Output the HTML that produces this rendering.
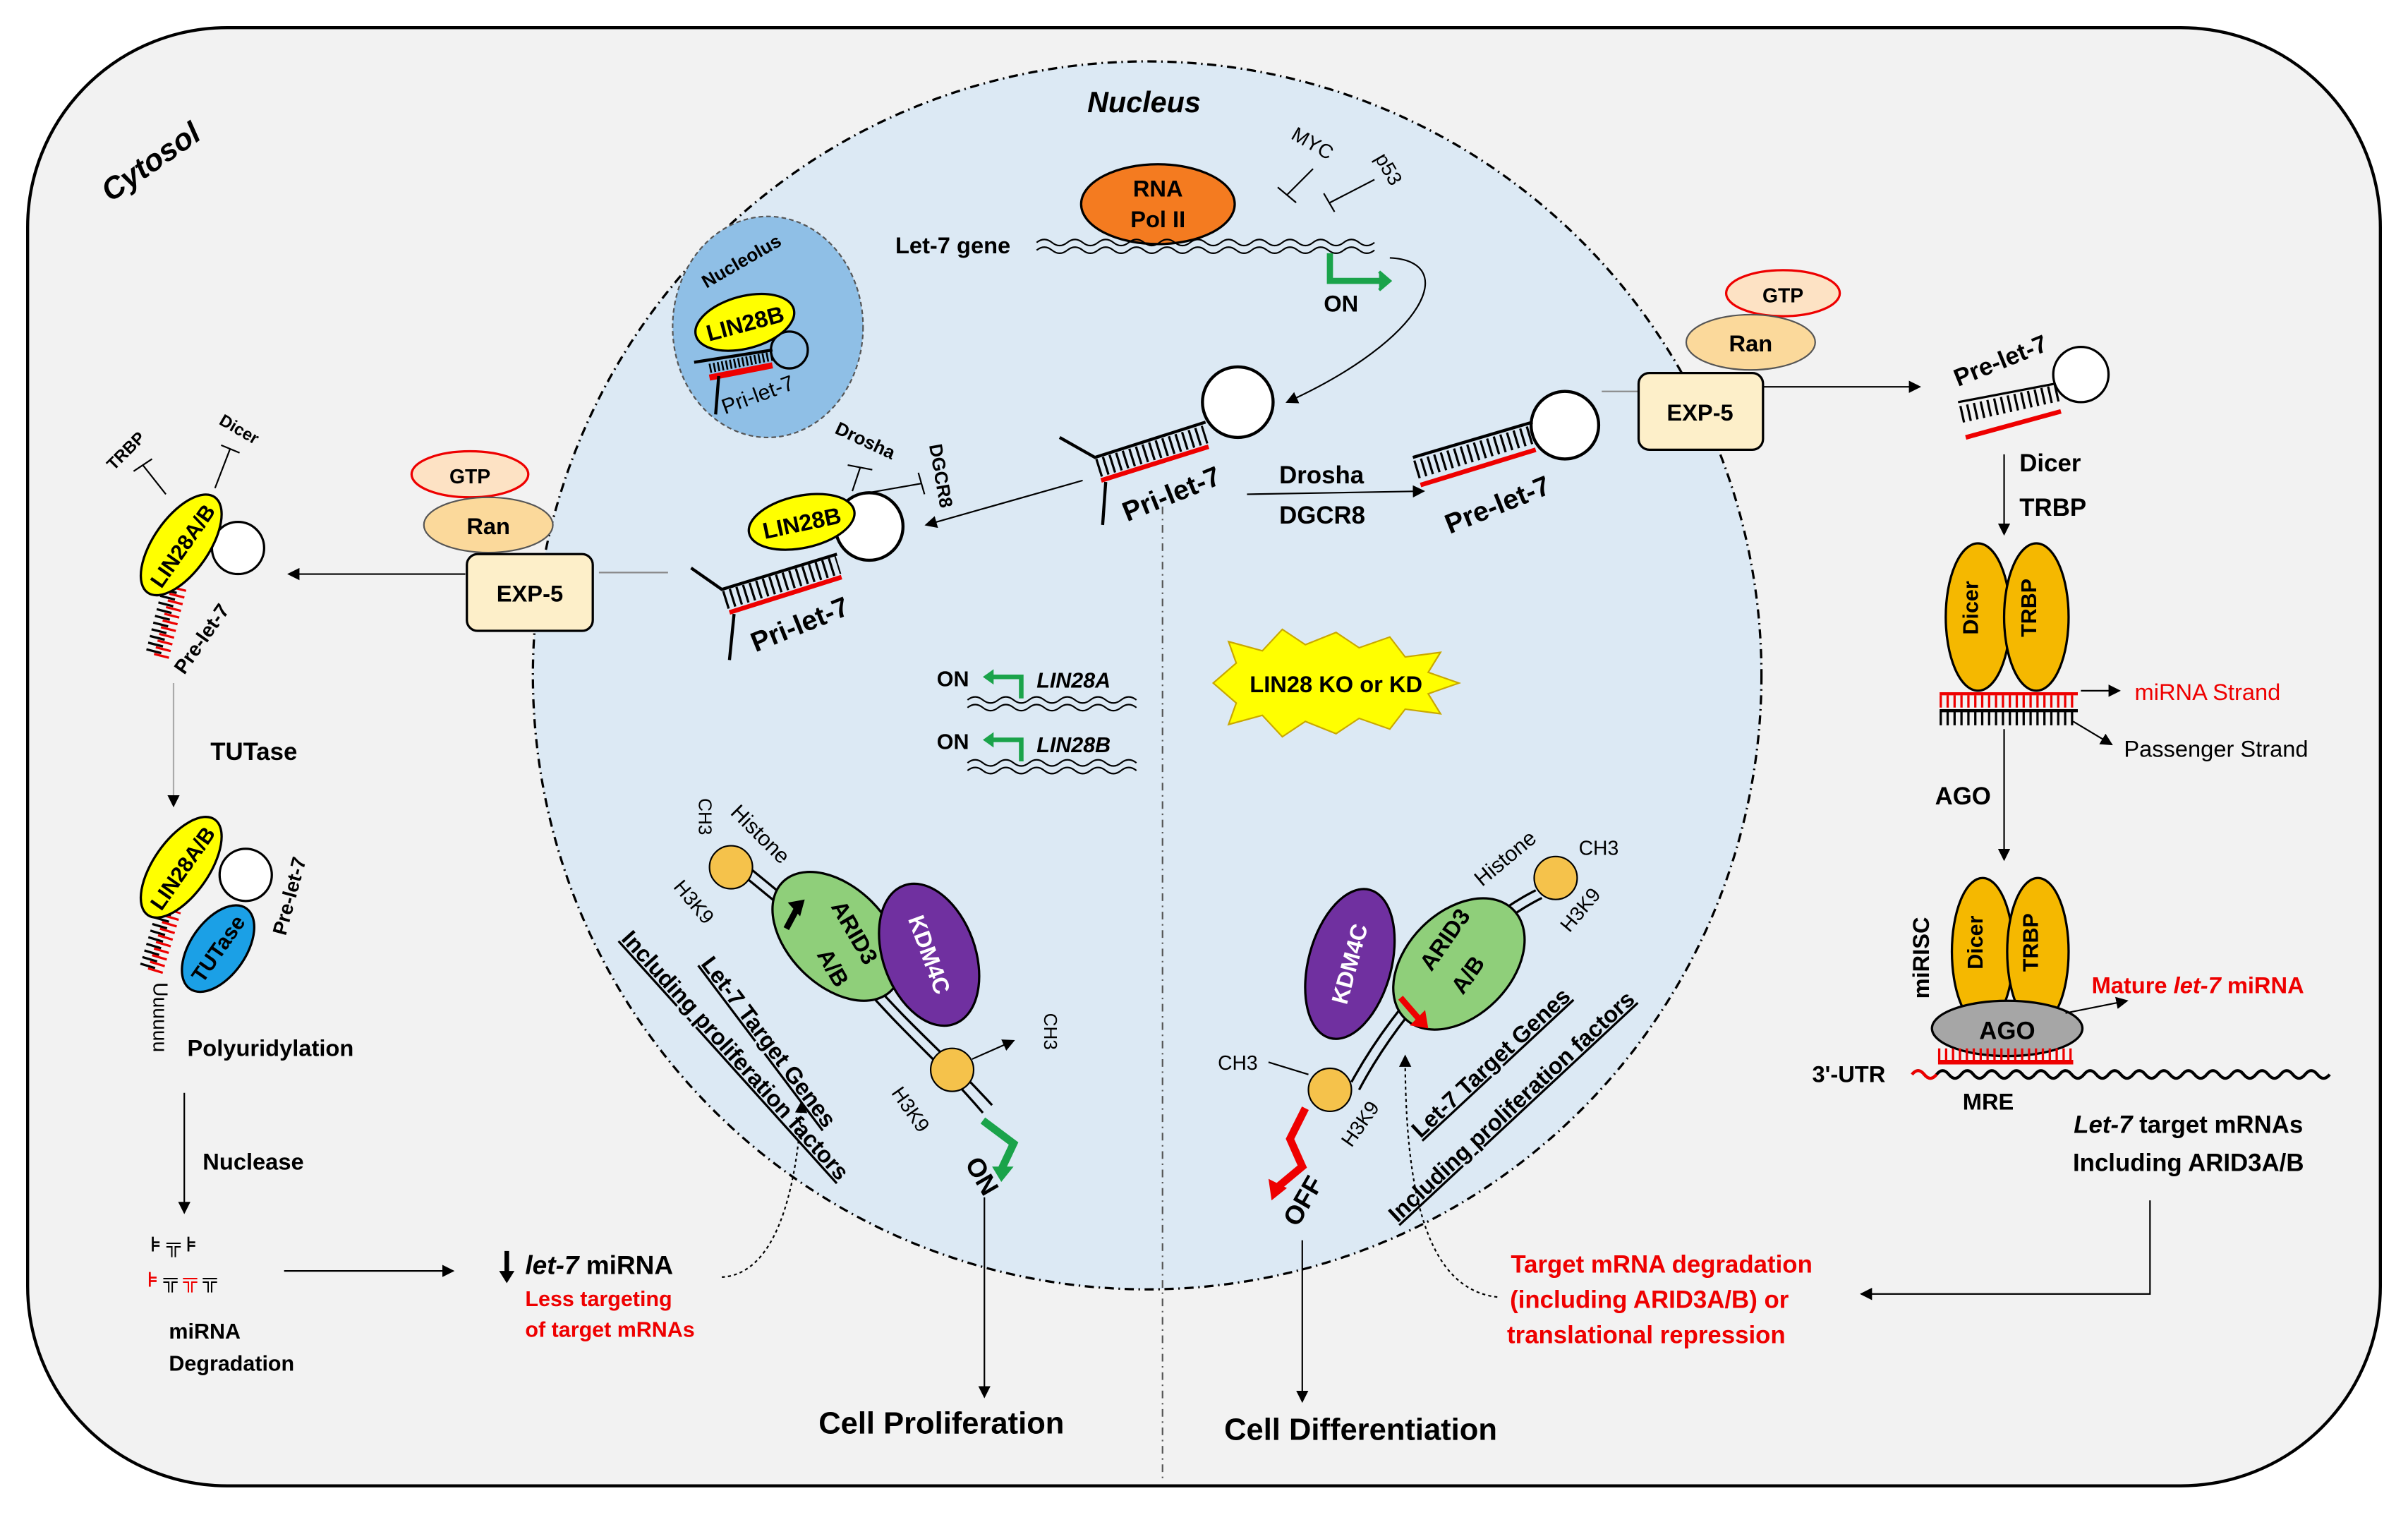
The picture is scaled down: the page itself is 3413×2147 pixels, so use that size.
<!DOCTYPE html>
<html><head><meta charset="utf-8"><style>
html,body{margin:0;padding:0;background:#fff;}
svg{display:block;}
text{font-family:"Liberation Sans",sans-serif;}
</style></head><body>
<svg width="3413" height="2147" viewBox="0 0 1568 987" preserveAspectRatio="none" xmlns="http://www.w3.org/2000/svg">
<defs>
<marker id="a" markerWidth="8" markerHeight="8" refX="7" refY="4" orient="auto" markerUnits="userSpaceOnUse"><path d="M0,0 L8,4 L0,8 z" fill="#000"/></marker>
</defs>
<rect width="1568" height="987" fill="#fff"/>
<rect x="18" y="18" width="1532" height="950" rx="130" fill="#f2f2f2" stroke="#000" stroke-width="2"/>
<circle cx="747" cy="440" r="400" fill="#dce9f4" stroke="#000" stroke-width="1.5" stroke-dasharray="6,3,1,3"/>
<line x1="757" y1="330" x2="757" y2="965" stroke="#555" stroke-width="1" stroke-dasharray="5,3,1,3"/>
<text transform="translate(72,132) rotate(-35)" font-size="20" font-weight="bold" font-style="italic">Cytosol</text>
<text x="708" y="73" font-size="19" font-weight="bold" font-style="italic">Nucleus</text>

<!-- Nucleolus -->
<ellipse cx="500" cy="213" rx="62" ry="72" fill="#8fbfe6" stroke="#555" stroke-dasharray="3,2"/>
<text transform="translate(460,188) rotate(-30)" font-size="12" font-weight="bold">Nucleolus</text>
<circle cx="514" cy="228" r="12" fill="none" stroke="#000" stroke-width="1.5"/>
<path d="M452 236 L503 228" stroke="#000" stroke-width="2"/>
<path d="M462 240 L503 232" stroke="#000" stroke-width="6" stroke-dasharray="1.2,1.5"/>
<path d="M462 246 L503 238" stroke="#e00" stroke-width="4"/>
<path d="M468 245 L466 270" stroke="#000" stroke-width="2"/>
<ellipse cx="485" cy="210" rx="33" ry="17" fill="#ffff00" stroke="#000" stroke-width="1.5" transform="rotate(-15 485 210)"/>
<text x="485" y="216" font-size="15" font-weight="bold" text-anchor="middle" transform="rotate(-15 485 210)">LIN28B</text>
<text transform="translate(472,270) rotate(-20)" font-size="14">Pri-let-7</text>

<!-- Let-7 gene -->
<ellipse cx="754" cy="133" rx="50" ry="26" fill="#f47b20" stroke="#000" stroke-width="1.5"/>
<text x="754" y="128" font-size="15" font-weight="bold" text-anchor="middle">RNA</text>
<text x="754" y="148" font-size="15" font-weight="bold" text-anchor="middle">Pol II</text>
<text x="583" y="165" font-size="15" font-weight="bold">Let-7 gene</text>
<path d="M675 158 q5 -4 10 0 t10 0 t10 0 t10 0 t10 0 t10 0 t10 0 t10 0 t10 0 t10 0 t10 0 t10 0 t10 0 t10 0 t10 0 t10 0 t10 0 t10 0 t10 0 t10 0 t10 0 t10 0" fill="none" stroke="#000"/>
<path d="M675 163 q5 -4 10 0 t10 0 t10 0 t10 0 t10 0 t10 0 t10 0 t10 0 t10 0 t10 0 t10 0 t10 0 t10 0 t10 0 t10 0 t10 0 t10 0 t10 0 t10 0 t10 0 t10 0 t10 0" fill="none" stroke="#000"/>
<text transform="translate(840,90) rotate(30)" font-size="13">MYC</text>
<text transform="translate(895,103) rotate(60)" font-size="13">p53</text>
<path d="M855 110 L838 127 M832 122 L844 132" stroke="#000"/>
<path d="M895 117 L866 132 M862 126 L869 138" stroke="#000"/>
<path d="M866 165 L866 183 L900 183" fill="none" stroke="#1aa34a" stroke-width="4"/>
<path d="M898 177 L905 183 L898 189" fill="#1aa34a" stroke="#1aa34a" stroke-width="2"/>
<text x="862" y="203" font-size="15" font-weight="bold">ON</text>
<path d="M905 168 C950 170 930 220 838 262" fill="none" stroke="#000" marker-end="url(#a)"/>

<!-- central pri-let-7 -->
<circle cx="806" cy="262" r="23" fill="#fff" stroke="#000" stroke-width="2"/>
<path d="M690 285 L713 298 L785 275" fill="none" stroke="#000" stroke-width="2"/>
<path d="M715 305 L785 283" stroke="#000" stroke-width="12" stroke-dasharray="1.5,3"/>
<path d="M717 313 L787 291" stroke="#e00" stroke-width="3"/>
<path d="M720 314 L718 342" stroke="#000" stroke-width="2"/>
<text transform="translate(734,340) rotate(-22)" font-size="18" font-weight="bold">Pri-let-7</text>
<path d="M705 313 L603 342" stroke="#000" marker-end="url(#a)"/>
<text x="833" y="315" font-size="16" font-weight="bold">Drosha</text>
<text x="833" y="341" font-size="16" font-weight="bold">DGCR8</text>
<path d="M812 322 L927 320" stroke="#000" marker-end="url(#a)"/>

<!-- pre-let-7 nucleus right -->
<circle cx="1019" cy="277" r="22" fill="#fff" stroke="#000" stroke-width="2"/>
<path d="M920 298 L998 275" stroke="#000" stroke-width="2"/>
<path d="M922 306 L998 283" stroke="#000" stroke-width="12" stroke-dasharray="1.5,3"/>
<path d="M925 316 L1000 293" stroke="#e00" stroke-width="3"/>
<text transform="translate(944,348) rotate(-22)" font-size="18" font-weight="bold">Pre-let-7</text>
<line x1="1043" y1="255" x2="1068" y2="255" stroke="#888"/>

<!-- right EXP-5 -->
<ellipse cx="1161" cy="191" rx="37" ry="15" fill="#fde2c4" stroke="#e00" stroke-width="1.5"/>
<text x="1161" y="197" font-size="13" font-weight="bold" text-anchor="middle">GTP</text>
<ellipse cx="1140" cy="223" rx="42" ry="18" fill="#fbd99b" stroke="#555"/>
<text x="1140" y="229" font-size="15" font-weight="bold" text-anchor="middle">Ran</text>
<rect x="1067" y="243" width="81" height="50" rx="7" fill="#fdefc9" stroke="#000" stroke-width="1.5"/>
<text x="1107" y="274" font-size="15" font-weight="bold" text-anchor="middle">EXP-5</text>
<path d="M1148 252 L1250 252" stroke="#000" marker-end="url(#a)"/>
<circle cx="1355" cy="244" r="18" fill="#fff" stroke="#000" stroke-width="1.5"/>
<path d="M1275 262 L1338 250" stroke="#000" stroke-width="1.5"/>
<path d="M1277 270 L1340 256" stroke="#000" stroke-width="11" stroke-dasharray="1.5,3"/>
<path d="M1280 285 L1342 268" stroke="#e00" stroke-width="3"/>
<text transform="translate(1275,252) rotate(-22)" font-size="16" font-weight="bold">Pre-let-7</text>
<text x="1315" y="307" font-size="16" font-weight="bold">Dicer</text>
<text x="1315" y="336" font-size="16" font-weight="bold">TRBP</text>
<path d="M1305 296 L1305 348" stroke="#000" marker-end="url(#a)"/>
<ellipse cx="1288" cy="402" rx="21" ry="48" fill="#f5b800" stroke="#000" stroke-width="1.5"/>
<ellipse cx="1326" cy="402" rx="21" ry="48" fill="#f5b800" stroke="#000" stroke-width="1.5"/>
<text x="1294" y="402" font-size="14" font-weight="bold" text-anchor="middle" transform="rotate(-90 1288 402)">Dicer</text>
<text x="1332" y="402" font-size="14" font-weight="bold" text-anchor="middle" transform="rotate(-90 1326 402)">TRBP</text>
<path d="M1263 452 L1353 452" stroke="#e00" stroke-width="2"/>
<path d="M1263 457 L1353 457" stroke="#e00" stroke-width="8" stroke-dasharray="1.5,3"/>
<path d="M1263 463 L1353 463" stroke="#000" stroke-width="2"/>
<path d="M1263 468 L1353 468" stroke="#000" stroke-width="9" stroke-dasharray="1.5,3"/>
<path d="M1355 450 L1380 450" stroke="#000" marker-end="url(#a)"/>
<text x="1390" y="456" font-size="15" fill="#e00">miRNA Strand</text>
<path d="M1350 470 L1375 485" stroke="#000" marker-end="url(#a)"/>
<text x="1383" y="493" font-size="15">Passenger Strand</text>
<text x="1260" y="524" font-size="16" font-weight="bold">AGO</text>
<path d="M1305 475 L1305 560" stroke="#000" marker-end="url(#a)"/>
<ellipse cx="1291" cy="620" rx="20" ry="48" fill="#f5b800" stroke="#000" stroke-width="1.5"/>
<ellipse cx="1327" cy="620" rx="20" ry="48" fill="#f5b800" stroke="#000" stroke-width="1.5"/>
<text x="1297" y="620" font-size="14" font-weight="bold" text-anchor="middle" transform="rotate(-90 1291 620)">Dicer</text>
<text x="1333" y="620" font-size="14" font-weight="bold" text-anchor="middle" transform="rotate(-90 1327 620)">TRBP</text>
<text x="1262" y="630" font-size="15" font-weight="bold" text-anchor="middle" transform="rotate(-90 1256 630)">miRISC</text>
<ellipse cx="1307" cy="670" rx="49" ry="18" fill="#a6a6a6" stroke="#000" stroke-width="1.5"/>
<text x="1307" y="677" font-size="16" font-weight="bold" text-anchor="middle">AGO</text>
<path d="M1345 660 L1385 652" stroke="#000" marker-end="url(#a)"/>
<text x="1362" y="647" font-size="15" font-weight="bold" fill="#e00">Mature <tspan font-style="italic">let-7</tspan> miRNA</text>
<path d="M1245 700 q4 -5 8 0 t8 0 t8 0 t8 0 t8 0 t8 0 t8 0 t8 0 t8 0 t8 0 t8 0 t8 0 t8 0 t8 0 t8 0 t8 0 t8 0 t8 0 t8 0 t8 0 t8 0 t8 0 t8 0 t8 0 t8 0 t8 0 t8 0 t8 0 t8 0 t8 0 t8 0 t8 0 t8 0 t8 0" fill="none" stroke="#000" stroke-width="2"/>
<path d="M1262 692 L1350 692" stroke="#e00" stroke-width="3"/>
<path d="M1262 687 L1350 687" stroke="#e00" stroke-width="8" stroke-dasharray="1.5,3"/>
<path d="M1245 700 q4 -5 8 0 t8 0" fill="none" stroke="#e00" stroke-width="2"/>
<text x="1180" y="705" font-size="15" font-weight="bold">3'-UTR</text>
<text x="1278" y="723" font-size="15" font-weight="bold">MRE</text>
<text x="1425" y="738" font-size="16" font-weight="bold" text-anchor="middle"><tspan font-style="italic">Let-7</tspan> target mRNAs</text>
<text x="1425" y="763" font-size="16" font-weight="bold" text-anchor="middle">Including ARID3A/B</text>
<path d="M1400 782 L1400 843 L1212 843" fill="none" stroke="#000" marker-end="url(#a)"/>
<text x="1082" y="829" font-size="16" font-weight="bold" fill="#e00" text-anchor="middle">Target mRNA degradation</text>
<text x="1074" y="852" font-size="16" font-weight="bold" fill="#e00" text-anchor="middle">(including ARID3A/B) or</text>
<text x="1072" y="875" font-size="16" font-weight="bold" fill="#e00" text-anchor="middle">translational repression</text>
<path d="M975 845 C930 840 915 780 915 688" fill="none" stroke="#000" stroke-dasharray="2,2" marker-end="url(#a)"/>

<!-- left nuclear pri-let-7 with LIN28B -->
<circle cx="566" cy="343" r="22" fill="#fff" stroke="#000" stroke-width="2"/>
<path d="M450 370 L470 384 L545 361" fill="none" stroke="#000" stroke-width="2"/>
<path d="M472 391 L546 368" stroke="#000" stroke-width="12" stroke-dasharray="1.5,3"/>
<path d="M475 399 L548 376" stroke="#e00" stroke-width="3"/>
<path d="M478 400 L475 430" stroke="#000" stroke-width="2"/>
<ellipse cx="522" cy="340" rx="35" ry="17" fill="#ffff00" stroke="#000" stroke-width="1.5" transform="rotate(-12 522 340)"/>
<text x="522" y="346" font-size="15" font-weight="bold" text-anchor="middle" transform="rotate(-12 522 340)">LIN28B</text>
<text transform="translate(492,425) rotate(-22)" font-size="18" font-weight="bold">Pri-let-7</text>
<text transform="translate(543,282) rotate(25)" font-size="12" font-weight="bold">Drosha</text>
<text transform="translate(605,290) rotate(80)" font-size="12" font-weight="bold">DGCR8</text>
<path d="M555 320 L560 305 M552 303 L568 306" stroke="#000"/>
<path d="M560 322 L600 315 M598 308 L602 322" stroke="#000"/>
<line x1="390" y1="373" x2="435" y2="373" stroke="#888"/>

<!-- left EXP-5 -->
<ellipse cx="306" cy="309" rx="38" ry="15" fill="#fde2c4" stroke="#e00" stroke-width="1.5"/>
<text x="306" y="315" font-size="13" font-weight="bold" text-anchor="middle">GTP</text>
<ellipse cx="318" cy="342" rx="42" ry="18" fill="#fbd99b" stroke="#555"/>
<text x="318" y="348" font-size="15" font-weight="bold" text-anchor="middle">Ran</text>
<rect x="304" y="361" width="82" height="50" rx="7" fill="#fdefc9" stroke="#000" stroke-width="1.5"/>
<text x="345" y="392" font-size="15" font-weight="bold" text-anchor="middle">EXP-5</text>
<path d="M303 374 L188 374" stroke="#000" marker-end="url(#a)"/>

<!-- cytosol left -->
<circle cx="155" cy="357" r="17" fill="#fff" stroke="#000" stroke-width="1.5"/>
<path d="M100 425 L112 378" stroke="#000" stroke-width="10" stroke-dasharray="1.5,3"/>
<path d="M105 428 L117 381" stroke="#e00" stroke-width="10" stroke-dasharray="1.5,3"/>
<ellipse cx="118" cy="355" rx="38" ry="18" fill="#ffff00" stroke="#000" stroke-width="1.5" transform="rotate(-55 118 355)"/>
<text x="118" y="361" font-size="14" font-weight="bold" text-anchor="middle" transform="rotate(-55 118 355)">LIN28A/B</text>
<text transform="translate(120,440) rotate(-55)" font-size="13" font-weight="bold">Pre-let-7</text>
<text transform="translate(74,307) rotate(-45)" font-size="11" font-weight="bold">TRBP</text>
<text transform="translate(142,276) rotate(30)" font-size="11" font-weight="bold">Dicer</text>
<path d="M93 303 L108 322 M87 307 L99 299" stroke="#000"/>
<path d="M150 292 L140 318 M144 290 L156 295" stroke="#000"/>
<path d="M113 445 L113 525" stroke="#aaa" marker-end="url(#a)"/>
<text x="137" y="495" font-size="16" font-weight="bold">TUTase</text>
<circle cx="160" cy="570" r="17" fill="#fff" stroke="#000" stroke-width="1.5"/>
<path d="M96 630 L108 590" stroke="#000" stroke-width="10" stroke-dasharray="1.5,3"/>
<path d="M101 633 L113 593" stroke="#e00" stroke-width="10" stroke-dasharray="1.5,3"/>
<ellipse cx="118" cy="565" rx="38" ry="18" fill="#ffff00" stroke="#000" stroke-width="1.5" transform="rotate(-55 118 565)"/>
<text x="118" y="571" font-size="14" font-weight="bold" text-anchor="middle" transform="rotate(-55 118 565)">LIN28A/B</text>
<ellipse cx="142" cy="618" rx="32" ry="18" fill="#1ba0e6" stroke="#000" stroke-width="1.5" transform="rotate(-55 142 618)"/>
<text x="142" y="623" font-size="14" font-weight="bold" text-anchor="middle" transform="rotate(-55 142 618)">TUTase</text>
<text transform="translate(186,610) rotate(-75)" font-size="13" font-weight="bold">Pre-let-7</text>
<text transform="translate(100,640) rotate(90)" font-size="13">Uuuuuu</text>
<text x="122" y="688" font-size="15" font-weight="bold">Polyuridylation</text>
<path d="M120 712 L120 790" stroke="#000" marker-end="url(#a)"/>
<text x="132" y="762" font-size="15" font-weight="bold">Nuclease</text>
<text x="98" y="815" font-size="13" font-weight="bold">⊧ ╦ ⊧</text>
<text x="96" y="838" font-size="13" font-weight="bold" fill="#e00">⊧<tspan fill="#000"> ╦ </tspan>╦<tspan fill="#000"> ╦</tspan></text>
<text x="110" y="872" font-size="14" font-weight="bold">miRNA</text>
<text x="110" y="893" font-size="14" font-weight="bold">Degradation</text>
<path d="M185 828 L295 828" stroke="#000" marker-end="url(#a)"/>
<path d="M330 815 L330 832" stroke="#000" stroke-width="3"/>
<path d="M325 828 L330 836 L335 828 z" fill="#000"/>
<text x="342" y="830" font-size="17" font-weight="bold"><tspan font-style="italic">let-7</tspan> miRNA</text>
<text x="342" y="851" font-size="14" font-weight="bold" fill="#e00">Less targeting</text>
<text x="342" y="871" font-size="14" font-weight="bold" fill="#e00">of target mRNAs</text>
<path d="M470 832 C510 830 520 760 522 718" fill="none" stroke="#000" stroke-dasharray="2,2" marker-end="url(#a)"/>

<!-- LIN28A/B genes -->
<text x="610" y="447" font-size="14" font-weight="bold">ON</text>
<path d="M665 455 L665 441 L645 441" fill="none" stroke="#1aa34a" stroke-width="3"/>
<path d="M647 436 L640 441 L647 446 z" fill="#1aa34a"/>
<text x="675" y="448" font-size="14" font-weight="bold" font-style="italic">LIN28A</text>
<path d="M630 456 q5 -4 10 0 t10 0 t10 0 t10 0 t10 0 t10 0 t10 0 t10 0 t10 0 t10 0 t10 0" fill="none" stroke="#000"/>
<path d="M630 461 q5 -4 10 0 t10 0 t10 0 t10 0 t10 0 t10 0 t10 0 t10 0 t10 0 t10 0 t10 0" fill="none" stroke="#000"/>
<text x="610" y="488" font-size="14" font-weight="bold">ON</text>
<path d="M665 496 L665 482 L645 482" fill="none" stroke="#1aa34a" stroke-width="3"/>
<path d="M647 477 L640 482 L647 487 z" fill="#1aa34a"/>
<text x="675" y="490" font-size="14" font-weight="bold" font-style="italic">LIN28B</text>
<path d="M630 497 q5 -4 10 0 t10 0 t10 0 t10 0 t10 0 t10 0 t10 0 t10 0 t10 0 t10 0 t10 0" fill="none" stroke="#000"/>
<path d="M630 502 q5 -4 10 0 t10 0 t10 0 t10 0 t10 0 t10 0 t10 0 t10 0 t10 0 t10 0 t10 0" fill="none" stroke="#000"/>

<!-- LIN28 KO star -->
<polygon points="790,445 805,432 800,418 822,424 835,410 850,420 870,412 885,422 905,415 915,428 938,425 930,438 950,445 930,452 938,465 915,462 905,475 885,468 870,478 850,470 835,480 822,466 800,472 805,458" fill="#ffff00" stroke="#c9a800"/>
<text x="870" y="451" font-size="15" font-weight="bold" text-anchor="middle">LIN28 KO or KD</text>

<!-- Left chromatin: ON -->
<path d="M486 572 C520 600 540 615 560 640 C590 675 610 690 640 725" fill="none" stroke="#000" stroke-width="1.5"/>
<path d="M490 567 C524 595 544 610 564 635 C594 670 614 685 646 720" fill="none" stroke="#000" stroke-width="1.5"/>
<circle cx="476" cy="565" r="14" fill="#f5c24b" stroke="#000"/>
<ellipse cx="545" cy="610" rx="50" ry="32" fill="#8fcf7a" stroke="#000" stroke-width="1.5" transform="rotate(45 545 610)"/>
<text x="552" y="610" font-size="15" font-weight="bold" text-anchor="middle" transform="rotate(60 552 610)">ARID3</text>
<text x="538" y="633" font-size="15" font-weight="bold" text-anchor="middle" transform="rotate(60 538 633)">A/B</text>
<path d="M512 605 L520 590" stroke="#000" stroke-width="4"/>
<path d="M513 588 L524 586 L521 597 z" fill="#000"/>
<ellipse cx="605" cy="622" rx="30" ry="48" fill="#7030a0" stroke="#000" stroke-width="1.5" transform="rotate(-20 605 622)"/>
<text x="605" y="627" font-size="15" font-weight="bold" fill="#fff" text-anchor="middle" transform="rotate(70 605 622)">KDM4C</text>
<circle cx="620" cy="697" r="14" fill="#f5c24b" stroke="#000"/>
<path d="M640 730 L660 745 L652 762" fill="none" stroke="#1aa34a" stroke-width="5"/>
<path d="M646 760 L652 770 L660 760 z" fill="#1aa34a"/>
<text transform="translate(628,758) rotate(60)" font-size="17" font-weight="bold">ON</text>
<text transform="translate(475,530) rotate(45)" font-size="14">Histone</text>
<text transform="translate(455,520) rotate(90)" font-size="12">CH3</text>
<text transform="translate(438,578) rotate(50)" font-size="13">H3K9</text>
<text transform="translate(580,712) rotate(55)" font-size="13">H3K9</text>
<text transform="translate(680,660) rotate(90)" font-size="12">CH3</text>
<path d="M633 690 L660 678" stroke="#000" marker-end="url(#a)"/>
<text transform="translate(456,628) rotate(53)" font-size="15" font-weight="bold" text-decoration="underline">Let-7 Target Genes</text>
<text transform="translate(404,612) rotate(48)" font-size="15" font-weight="bold" text-decoration="underline">Including proliferation factors</text>
<path d="M641 780 L641 910" stroke="#000" marker-end="url(#a)"/>
<text x="613" y="934" font-size="20" font-weight="bold" text-anchor="middle">Cell Proliferation</text>

<!-- Right chromatin: OFF -->
<path d="M1000 580 C960 600 910 650 880 705" fill="none" stroke="#000" stroke-width="1.5"/>
<path d="M1004 585 C964 605 914 655 885 710" fill="none" stroke="#000" stroke-width="1.5"/>
<ellipse cx="879" cy="628" rx="27" ry="50" fill="#7030a0" stroke="#000" stroke-width="1.5" transform="rotate(15 879 628)"/>
<text x="879" y="633" font-size="15" font-weight="bold" fill="#fff" text-anchor="middle" transform="rotate(-75 879 628)">KDM4C</text>
<ellipse cx="950" cy="628" rx="50" ry="34" fill="#8fcf7a" stroke="#000" stroke-width="1.5" transform="rotate(-45 950 628)"/>
<text x="945" y="615" font-size="15" font-weight="bold" text-anchor="middle" transform="rotate(-55 945 615)">ARID3</text>
<text x="960" y="638" font-size="15" font-weight="bold" text-anchor="middle" transform="rotate(-55 960 638)">A/B</text>
<path d="M912 650 L925 665" stroke="#e00" stroke-width="4"/>
<path d="M918 668 L930 670 L928 658 z" fill="#e00"/>
<circle cx="1013" cy="572" r="14" fill="#f5c24b" stroke="#000"/>
<circle cx="866" cy="710" r="14" fill="#f5c24b" stroke="#000"/>
<path d="M850 722 L840 742 L848 760 L830 775" fill="none" stroke="#e00" stroke-width="5"/>
<path d="M826 768 L828 782 L838 774 z" fill="#e00"/>
<text transform="translate(845,800) rotate(-60)" font-size="17" font-weight="bold">OFF</text>
<text transform="translate(965,578) rotate(-40)" font-size="14">Histone</text>
<text x="1028" y="557" font-size="13">CH3</text>
<text transform="translate(1022,608) rotate(-50)" font-size="13">H3K9</text>
<text x="793" y="697" font-size="13">CH3</text>
<path d="M826 692 L852 700" stroke="#000"/>
<text transform="translate(880,748) rotate(-55)" font-size="13">H3K9</text>
<text transform="translate(925,742) rotate(-43)" font-size="15" font-weight="bold" text-decoration="underline">Let-7 Target Genes</text>
<text transform="translate(910,797) rotate(-43)" font-size="15" font-weight="bold" text-decoration="underline">Including proliferation factors</text>
<path d="M848 808 L848 913" stroke="#000" marker-end="url(#a)"/>
<text x="886" y="938" font-size="20" font-weight="bold" text-anchor="middle">Cell Differentiation</text>
</svg>
</body></html>
